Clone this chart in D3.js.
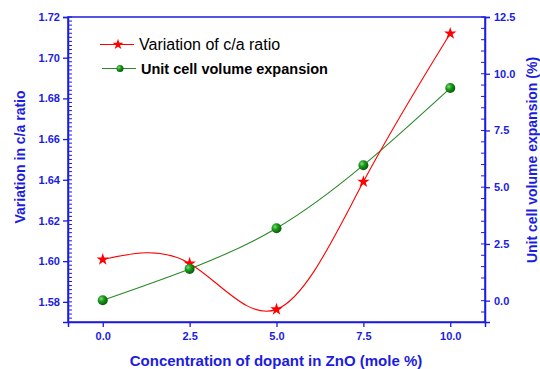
<!DOCTYPE html>
<html>
<head>
<meta charset="utf-8">
<script src="https://cdn.jsdelivr.net/npm/d3@7"></script>
<style>
  body { margin: 0; background: #fff; }
  svg { display: block; font-family: Arial, "Liberation Sans", sans-serif; }
</style>
</head>
<body>
<svg></svg>
<script>
// chart data
const dopant = [0, 2.5, 5.0, 7.5, 10.0];
const caRatio = [1.6008, 1.5989, 1.5763, 1.6390, 1.7119];
const volumeExp = [0.02, 1.40, 3.19, 5.97, 9.37];
const xTicks = [0, 2.5, 5, 7.5, 10];
const leftTicks = [1.58, 1.60, 1.62, 1.64, 1.66, 1.68, 1.70, 1.72];
const rightTicks = [0, 2.5, 5, 7.5, 10, 12.5];

const size = {w: 540, h: 369};
const margin = {t: 17, r: 55, b: 47, l: 68};
const blue = '#1c1ce0';

const svg = d3.select('svg')
    .attr('width', size.w)
    .attr('height', size.h);

const x = d3.scaleLinear().domain([-1, 11]).range([margin.l, size.w - margin.r]);
const yL = d3.scaleLinear().domain([1.5701, 1.72]).range([size.h - margin.b, margin.t]);
const yR = d3.scaleLinear().domain([-0.94, 12.5]).range([size.h - margin.b, margin.t]);

const x0 = margin.l, x1 = size.w - margin.r, yTop = margin.t, yBot = size.h - margin.b;

// sphere look for the green markers
const defs = svg.append('defs');
const grad = defs.append('radialGradient').attr('id', 'ball')
    .attr('cx', '35%').attr('cy', '35%').attr('r', '65%');
grad.append('stop').attr('offset', '0%').attr('stop-color', '#7fdc7f');
grad.append('stop').attr('offset', '45%').attr('stop-color', '#1a9a1a');
grad.append('stop').attr('offset', '100%').attr('stop-color', '#0b5e0b');

// frame
svg.append('rect')
    .attr('x', x0).attr('y', yTop)
    .attr('width', x1 - x0).attr('height', yBot - yTop)
    .attr('fill', 'none').attr('stroke', blue).attr('stroke-width', 1.5);

// left axis: major ticks outward, minor ticks inward
const leftG = svg.append('g').attr('transform', `translate(${x0},0)`);
leftG.call(d3.axisLeft(yL).tickValues(leftTicks).tickFormat(d3.format('.2f')).tickSize(5).tickPadding(3));
leftG.append('g').selectAll('line')
    .data(d3.range(1.572, 1.7201, 0.002))
    .join('line')
    .attr('x1', 0).attr('x2', 4)
    .attr('y1', d => yL(d)).attr('y2', d => yL(d))
    .attr('stroke', blue).attr('stroke-width', 1);

// right axis
const rightG = svg.append('g').attr('transform', `translate(${x1},0)`);
rightG.call(d3.axisRight(yR).tickValues(rightTicks).tickFormat(d3.format('.1f')).tickSize(5).tickPadding(4));
rightG.append('g').selectAll('line')
    .data(d3.range(-0.5, 12.51, 0.5))
    .join('line')
    .attr('x1', 0).attr('x2', -4)
    .attr('y1', d => yR(d)).attr('y2', d => yR(d))
    .attr('stroke', blue).attr('stroke-width', 1);

// bottom axis
const bottomG = svg.append('g').attr('transform', `translate(0,${yBot})`);
bottomG.call(d3.axisBottom(x).tickValues(xTicks).tickFormat(d3.format('.1f')).tickSize(5).tickPadding(5));

// axis styling
svg.selectAll('.domain').attr('stroke', blue).attr('stroke-width', 1.5);
svg.selectAll('.tick line').attr('stroke', blue).attr('stroke-width', 1.3);
svg.selectAll('.tick text')
    .attr('fill', blue)
    .style('font-size', '11px')
    .style('font-weight', 'bold')
    .style('font-family', 'Arial, "Liberation Sans", sans-serif');

// axis titles
svg.append('text')
    .attr('transform', `translate(25,157) rotate(-90)`)
    .attr('text-anchor', 'middle')
    .attr('fill', blue)
    .style('font-size', '14px').style('font-weight', 'bold')
    .text('Variation in c/a ratio');

svg.append('text')
    .attr('transform', `translate(537,160) rotate(-90)`)
    .attr('text-anchor', 'middle')
    .attr('fill', blue)
    .style('font-size', '14px').style('font-weight', 'bold')
    .text('Unit cell volume expansion (%)');

svg.append('text')
    .attr('x', 276).attr('y', 366)
    .attr('text-anchor', 'middle')
    .attr('fill', blue)
    .style('font-size', '15px').style('font-weight', 'bold')
    .text('Concentration of dopant in ZnO (mole %)');

// lines
const caLine = d3.line()
    .x((d, i) => x(dopant[i]))
    .y(d => yL(d))
    .curve(d3.curveNatural);

const volLine = d3.line()
    .x((d, i) => x(dopant[i]))
    .y(d => yR(d))
    .curve(d3.curveNatural);

svg.append('path')
    .attr('d', volLine(volumeExp))
    .attr('fill', 'none').attr('stroke', '#2a8a2a').attr('stroke-width', 1.1);

svg.append('path')
    .attr('d', caLine(caRatio))
    .attr('fill', 'none').attr('stroke', '#ff0000').attr('stroke-width', 1.1);

const star = d3.symbol().type(d3.symbolStar).size(48);

svg.append('g').selectAll('path')
    .data(caRatio)
    .join('path')
    .attr('d', star)
    .attr('transform', (d, i) => `translate(${x(dopant[i])},${yL(d)})`)
    .attr('fill', '#ff0000');

svg.append('g').selectAll('circle')
    .data(volumeExp)
    .join('circle')
    .attr('cx', (d, i) => x(dopant[i]))
    .attr('cy', d => yR(d))
    .attr('r', 5)
    .attr('fill', 'url(#ball)');

// legend
const legend = svg.append('g');
legend.append('line')
    .attr('x1', 100).attr('x2', 134).attr('y1', 44.5).attr('y2', 44.5)
    .attr('stroke', '#ff0000').attr('stroke-width', 1.1);
legend.append('path')
    .attr('d', d3.symbol().type(d3.symbolStar).size(36))
    .attr('transform', 'translate(118,44.5)')
    .attr('fill', '#ff0000');
legend.append('text')
    .attr('x', 139).attr('y', 50)
    .attr('fill', '#000')
    .style('font-size', '16px')
    .text('Variation of c/a ratio');

legend.append('line')
    .attr('x1', 102).attr('x2', 136).attr('y1', 68.5).attr('y2', 68.5)
    .attr('stroke', '#2a8a2a').attr('stroke-width', 1.1);
legend.append('circle')
    .attr('cx', 120).attr('cy', 68.5).attr('r', 3.5)
    .attr('fill', 'url(#ball)');
legend.append('text')
    .attr('x', 141).attr('y', 73.5)
    .attr('fill', '#000')
    .style('font-size', '14.5px').style('font-weight', 'bold')
    .text('Unit cell volume expansion');
</script>
</body>
</html>
